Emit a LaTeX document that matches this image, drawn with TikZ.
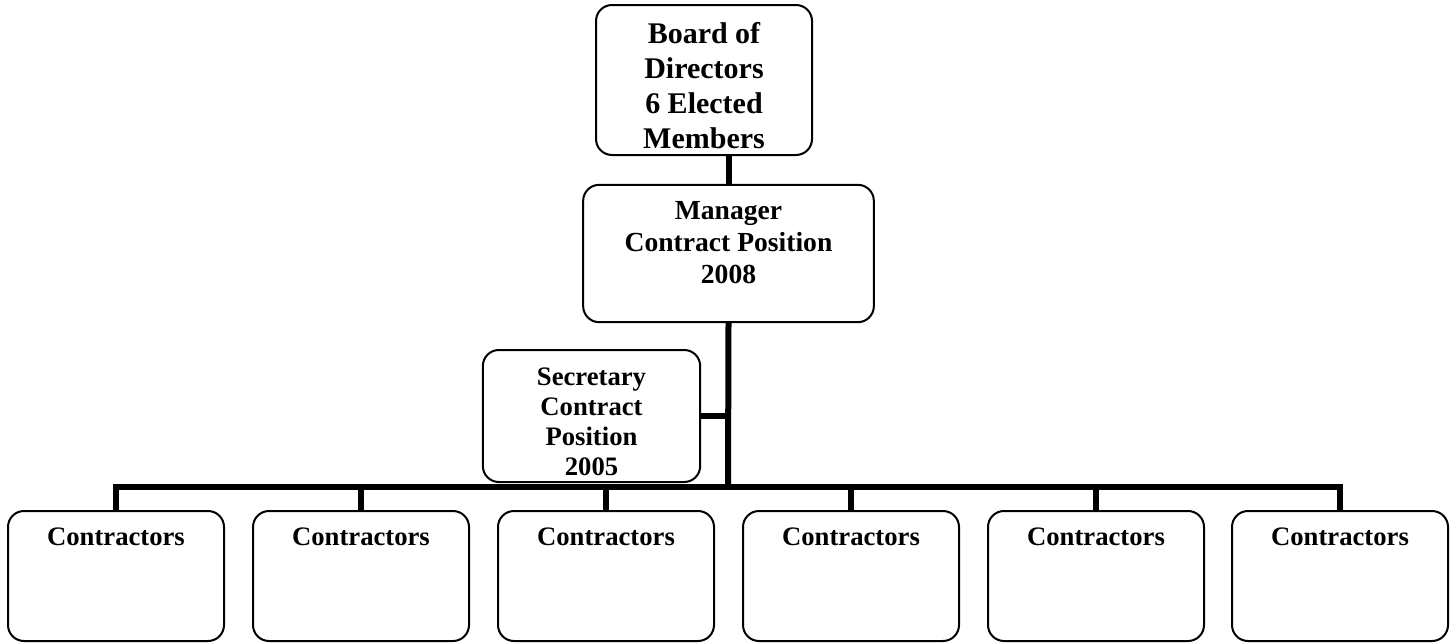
\documentclass[tikz,border=0pt]{standalone}
\usepackage{fontspec}
\setmainfont{Liberation Serif}
\begin{document}
\begin{tikzpicture}[x=0.75pt,y=-0.75pt,
  orgbox/.style={draw,line width=1.5pt,rounded corners=12pt,inner sep=0pt},
  orgtext/.style={align=center,inner sep=0pt},
  workbox/.style={orgbox,anchor=north,minimum width=162pt,text height=22.5pt,text depth=69pt,inner ysep=3pt,font=\fontsize{20}{24}\selectfont\bfseries},
  conn/.style={line width=4.5pt}]
  \useasboundingbox (0,0) rectangle (1455,643);
  % boxes
  \node[orgbox,minimum width=162pt,minimum height=112.5pt] (board) at (704,80) {};
  \node[orgtext,font=\fontsize{22.5}{26.25}\selectfont\bfseries] (boardtxt) at (704,86) {Board of\\Directors\\6 Elected\\Members};
  \node[orgbox,minimum width=218pt,minimum height=103pt] (manager) at (728.5,253.5) {};
  \node[orgtext,font=\fontsize{20.7}{24}\selectfont\bfseries] (managertxt) at (728.5,243) {Manager\\Contract Position\\2008};
  \node[orgbox,minimum width=163pt,minimum height=99pt] (secretary) at (591.5,416) {};
  \node[orgtext,font=\fontsize{20}{22.5}\selectfont\bfseries] (secretarytxt) at (591.5,422) {Secretary\\Contract\\Position\\2005};
  \node[workbox] (c1) at (116,510) {Contractors};
  \node[workbox] (c2) at (361,510) {Contractors};
  \node[workbox] (c3) at (606,510) {Contractors};
  \node[workbox] (c4) at (851,510) {Contractors};
  \node[workbox] (c5) at (1096,510) {Contractors};
  \node[workbox] (c6) at (1340,510) {Contractors};
  % lines
  \coordinate (bus) at (728,487);
  \draw[conn] (manager.north) -- (manager.north |- board.south);
  \draw[conn] (manager.south) -- (bus);
  \draw[conn] (secretary.east) -- (secretary.east -| bus);
  \draw[conn] (c1.north) -- (c1.north |- bus) -- (c6.north |- bus) -- (c6.north);
  \draw[conn] (c2.north) -- (c2.north |- bus);
  \draw[conn] (c3.north) -- (c3.north |- bus);
  \draw[conn] (c4.north) -- (c4.north |- bus);
  \draw[conn] (c5.north) -- (c5.north |- bus);
\end{tikzpicture}
\end{document}
